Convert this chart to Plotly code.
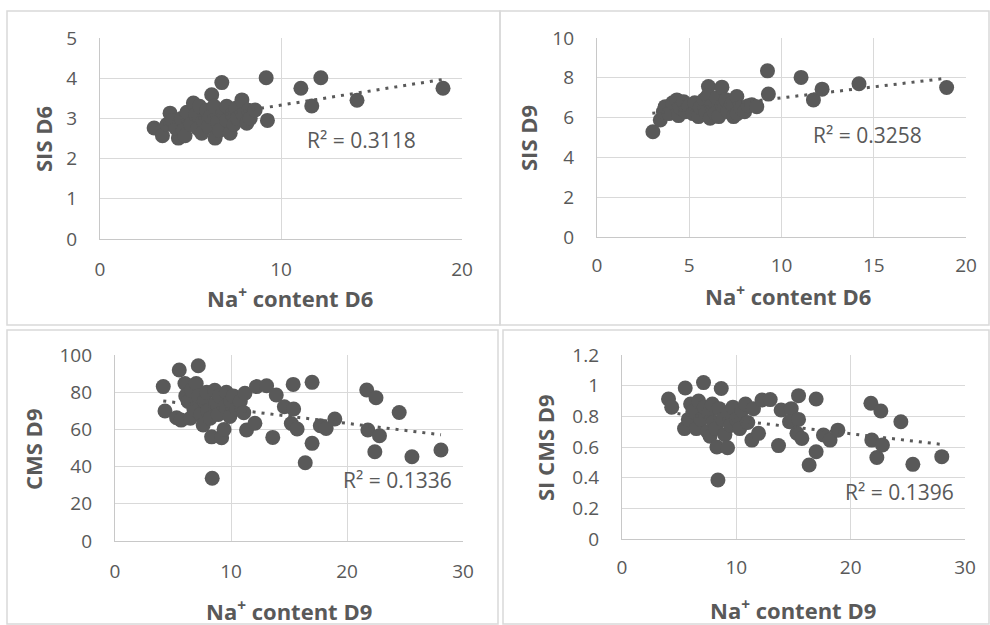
import plotly.graph_objects as go

W, H = 990, 625

# ---------------- data ----------------
# Panel 1: Na+ content D6 vs SIS D6
p1_x = [2.99, 3.45, 3.87, 3.7, 4.0, 4.33, 4.2, 4.5, 4.6, 4.7, 4.8, 5.0, 5.16, 5.3, 5.4, 5.5,
        5.62, 5.7, 5.9, 6.0, 6.17, 6.1, 6.36, 6.3, 6.5, 6.6, 6.73, 6.8, 7.0, 7.0, 7.19, 7.3,
        7.4, 7.5, 7.6, 7.84, 7.9, 8.11, 8.2, 8.3, 8.57, 9.18, 9.25, 11.1, 11.7, 12.2, 14.2, 18.95]
p1_y = [2.76, 2.57, 3.13, 2.85, 2.95, 2.51, 2.75, 3.0, 2.7, 2.57, 3.15, 2.85, 3.38, 3.1, 2.75, 3.3,
        2.63, 2.95, 3.2, 2.8, 3.59, 3.05, 2.51, 3.3, 2.9, 2.7, 3.89, 3.15, 3.3, 2.95, 2.63, 3.1,
        2.85, 3.25, 3.0, 3.46, 3.1, 2.88, 3.2, 3.0, 3.21, 4.01, 2.95, 3.75, 3.31, 4.01, 3.45, 3.75]
p1_trend_x = [3.0, 18.95]
p1_trend_y = [2.83, 3.97]
p1_r2 = "R² = 0.3118"

# Panel 2: Na+ content D6 vs SIS D9
p2_x = [3.03, 3.43, 3.6, 3.7, 3.9, 4.1, 4.33, 4.42, 4.5, 4.7, 4.8, 5.0, 5.2, 5.3, 5.5, 5.6,
        5.8, 5.9, 6.04, 6.0, 6.13, 6.2, 6.4, 6.5, 6.6, 6.77, 6.8, 7.0, 7.1, 7.3, 7.4, 7.58,
        7.6, 7.8, 8.0, 8.2, 8.39, 8.66, 9.24, 9.29, 11.06, 11.73, 12.2, 14.2, 18.95]
p2_y = [5.29, 5.88, 6.3, 6.55, 6.2, 6.75, 6.89, 6.1, 6.5, 6.8, 6.3, 6.6, 6.2, 6.75, 6.05, 6.5,
        6.9, 6.3, 7.56, 7.1, 5.97, 6.6, 6.2, 7.0, 6.05, 7.53, 6.6, 6.9, 6.3, 6.7, 6.05, 7.06,
        6.2, 6.5, 6.3, 6.6, 6.64, 6.55, 8.35, 7.18, 8.02, 6.89, 7.43, 7.7, 7.51]
p2_trend_x = [3.0, 18.95]
p2_trend_y = [6.22, 7.98]
p2_r2 = "R² = 0.3258"

# Panel 3: Na+ content D9 vs CMS D9
p3_x = [4.16, 4.31, 5.54, 5.31, 5.7, 6.03, 6.1, 6.3, 6.5, 6.6, 6.8, 7.0, 7.18, 7.2, 7.4, 7.6,
        7.7, 7.9, 8.0, 8.2, 8.33, 8.38, 8.6, 8.7, 8.9, 9.0, 9.19, 9.4, 9.5, 9.6, 9.9, 10.0,
        10.2, 10.5, 10.8, 11.2, 11.34, 11.1, 12.06, 12.2, 13.07, 13.9, 13.6, 14.6, 15.36, 15.4,
        15.2, 15.7, 16.4, 16.99, 16.99, 17.7, 18.2, 18.95, 21.7, 21.8, 22.5, 22.4, 22.8, 24.5,
        25.6, 28.1]
p3_y = [83.0, 69.9, 91.9, 66.3, 65.0, 84.7, 78, 75, 66, 81, 71, 84.7, 94.2, 78, 68, 62.4,
        75, 80, 70, 66, 56.0, 33.7, 81, 74, 68, 78, 55.5, 60.0, 72, 80, 67, 75,
        78, 71, 75, 79.4, 59.7, 69, 63.3, 83.0, 83.5, 78.5, 55.7, 72.2, 84.2, 71.0,
        63.2, 60.2, 42.1, 85.3, 52.5, 62.0, 60.5, 65.6, 81.2, 59.7, 77.0, 48.0, 56.6, 69.1,
        45.3, 48.9]
p3_trend_x = [4.16, 28.1]
p3_trend_y = [75.3, 57.1]
p3_r2 = "R² = 0.1336"

# Panel 4: Na+ content D9 vs SI CMS D9
p4_x = [4.07, 4.35, 5.53, 5.47, 5.8, 6.0, 6.2, 6.5, 6.7, 6.9, 7.13, 7.2, 7.5, 7.6, 7.7, 7.9,
        8.0, 8.2, 8.3, 8.39, 8.5, 8.68, 8.8, 9.0, 9.23, 9.3, 9.5, 9.7, 10.0, 10.3, 10.5, 10.8,
        11.0, 11.36, 11.94, 11.5, 12.24, 12.96, 13.69, 13.92, 14.8, 14.65, 15.44, 15.44, 15.3,
        15.73, 16.37, 16.98, 16.98, 17.62, 18.2, 18.88, 21.77, 21.85, 22.64, 22.29, 22.78,
        24.39, 25.44, 27.97]
p4_y = [0.913, 0.86, 0.985, 0.72, 0.78, 0.88, 0.83, 0.72, 0.9, 0.78, 1.02, 0.86, 0.7, 0.82, 0.67, 0.88,
        0.76, 0.72, 0.60, 0.385, 0.85, 0.982, 0.78, 0.68, 0.595, 0.82, 0.74, 0.86, 0.78, 0.72, 0.84, 0.88,
        0.76, 0.645, 0.689, 0.85, 0.907, 0.909, 0.609, 0.841, 0.85, 0.765, 0.935, 0.78, 0.69,
        0.656, 0.483, 0.913, 0.569, 0.678, 0.645, 0.71, 0.885, 0.645, 0.835, 0.532, 0.613,
        0.765, 0.487, 0.537]
p4_trend_x = [4.07, 27.97]
p4_trend_y = [0.825, 0.617]
p4_r2 = "R² = 0.1396"

x_titles = ["Na<sup>+</sup> content D6", "Na<sup>+</sup> content D6",
            "Na<sup>+</sup> content D9", "Na<sup>+</sup> content D9"]
y_titles = ["SIS D6", "SIS D9", "CMS D9", "SI CMS D9"]

# ---------------- styling ----------------
DARK = "#595959"
GRID = "#d9d9d9"
AXL = "#c8c8c8"
FONT = "Open Sans"


def px_x(p):
    return p / W


def px_y(p):
    return 1 - p / H


# plot-area boxes in pixels: (left, right, top, bottom)
boxes = [(100, 462, 38, 239), (597, 966, 38, 237), (115, 463, 355, 541), (622, 965, 355, 539)]
x_ranges = [[0, 20], [0, 20], [0, 30], [0, 30]]
x_dticks = [10, 5, 10, 10]
y_ranges = [[0, 5], [0, 10], [0, 100], [0, 1.2]]
y_dticks = [1, 2, 20, 0.2]
x_standoff = [13, 11, 13, 11]
# text positions in pixels
r2_pos = [(361, 140), (867, 135), (397, 480), (899, 492)]
xt_pos = [(290, 297), (788, 295), (289, 610), (793, 609)]
yt_pos = [(43, 139), (528, 138), (33, 450), (545, 448)]

panels = [
    (p1_x, p1_y, p1_trend_x, p1_trend_y, p1_r2),
    (p2_x, p2_y, p2_trend_x, p2_trend_y, p2_r2),
    (p3_x, p3_y, p3_trend_x, p3_trend_y, p3_r2),
    (p4_x, p4_y, p4_trend_x, p4_trend_y, p4_r2),
]

fig = go.Figure()
layout = dict(
    template="none",
    width=W, height=H, margin=dict(l=0, r=0, t=0, b=0, pad=0, autoexpand=False),
    paper_bgcolor="white", plot_bgcolor="white", showlegend=False,
    font=dict(family=FONT, color=DARK, size=19),
)
annotations = []
shapes = []

for i, (xs, ys, tx, ty, r2) in enumerate(panels):
    n = "" if i == 0 else str(i + 1)
    xa, ya = "x" + n, "y" + n
    fig.add_trace(go.Scatter(x=xs, y=ys, mode="markers", xaxis=xa, yaxis=ya,
                             marker=dict(size=15, color=DARK, line=dict(width=0))))
    fig.add_trace(go.Scatter(x=tx, y=ty, mode="lines", xaxis=xa, yaxis=ya,
                             line=dict(color=DARK, width=3, dash="3px,6px")))
    l, r, t, b = boxes[i]
    layout["xaxis" + n] = dict(
        domain=[px_x(l), px_x(r)], anchor=ya, range=x_ranges[i], dtick=x_dticks[i], tick0=0,
        showgrid=True, gridcolor=GRID, gridwidth=1, zeroline=False, automargin=False,
        showline=True, linecolor=AXL, linewidth=1.3, ticks="", ticklabelstandoff=x_standoff[i],
        tickfont=dict(family=FONT, size=19, color=DARK))
    layout["yaxis" + n] = dict(
        domain=[px_y(b), px_y(t)], anchor=xa, range=y_ranges[i], dtick=y_dticks[i], tick0=0,
        showgrid=True, gridcolor=GRID, gridwidth=1, zeroline=False, automargin=False,
        showline=True, linecolor=AXL, linewidth=1.3, ticks="", ticklabelstandoff=18,
        tickfont=dict(family=FONT, size=19, color=DARK))
    annotations.append(dict(x=px_x(r2_pos[i][0]), y=px_y(r2_pos[i][1]), xref="paper", yref="paper",
                            text=r2, showarrow=False, xanchor="center", yanchor="middle",
                            font=dict(family=FONT, size=21, color=DARK)))
    annotations.append(dict(x=px_x(xt_pos[i][0]), y=px_y(xt_pos[i][1]), xref="paper", yref="paper",
                            text="<b>" + x_titles[i] + "</b>", showarrow=False,
                            xanchor="center", yanchor="middle",
                            font=dict(family=FONT, size=22, color=DARK)))
    annotations.append(dict(x=px_x(yt_pos[i][0]), y=px_y(yt_pos[i][1]), xref="paper", yref="paper",
                            text="<b>" + y_titles[i] + "</b>", showarrow=False, textangle=-90,
                            xanchor="center", yanchor="middle",
                            font=dict(family=FONT, size=22, color=DARK)))

# panel borders (pixels)
borders = [(7, 500, 11, 325), (500, 989, 11, 325), (7, 498, 330, 624), (503, 989, 330, 624)]
for (x0, x1, y0, y1) in borders:
    shapes.append(dict(type="rect", xref="paper", yref="paper",
                       x0=px_x(x0), x1=px_x(x1), y0=px_y(y1), y1=px_y(y0),
                       line=dict(color=GRID, width=1.5), fillcolor="rgba(0,0,0,0)", layer="above"))

layout["annotations"] = annotations
layout["shapes"] = shapes
fig.update_layout(**layout)
fig.write_html("out.html")
